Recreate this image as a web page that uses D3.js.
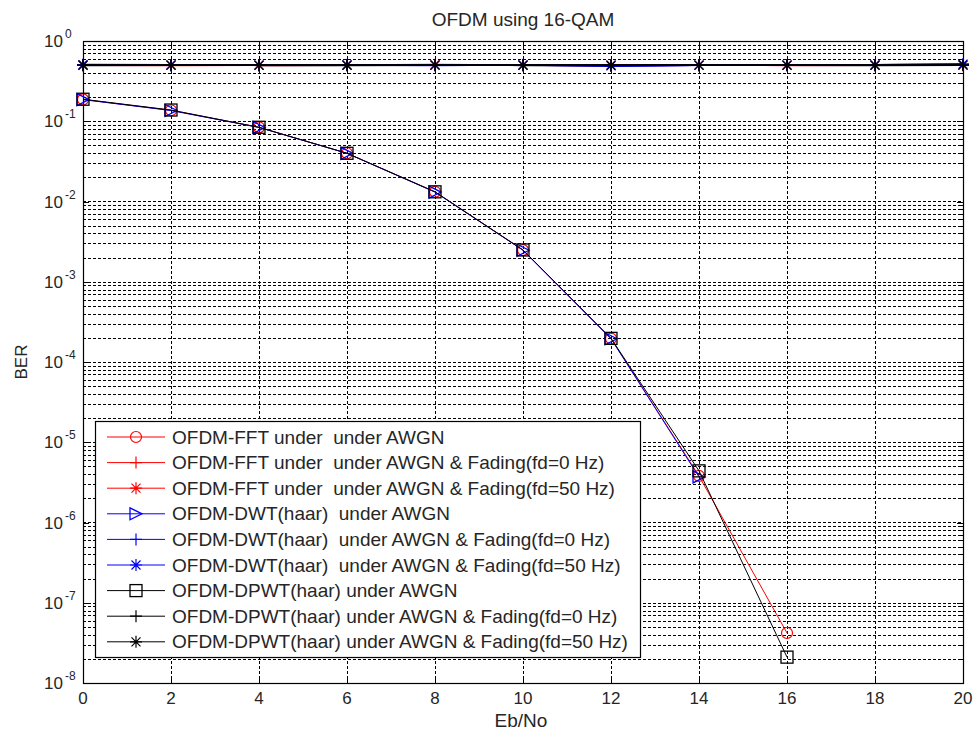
<!DOCTYPE html>
<html>
<head>
<meta charset="utf-8">
<script src="https://cdn.jsdelivr.net/npm/d3@7"></script>
<style>
  html, body { margin: 0; padding: 0; background: #fff; }
  svg { display: block; font-family: "Liberation Sans", Arial, sans-serif; }
  text { fill: #262626; }
</style>
</head>
<body>
<svg id="chart" width="979" height="733"></svg>
<script>
// Eb/No axis points (dB)
const ebno = [0, 2, 4, 6, 8, 10, 12, 14, 16, 18, 20];

// BER under AWGN (0 = no errors counted, not drawn on a log axis)
const fftAwgn  = [0.187, 0.137, 0.0840, 0.0399, 0.0132, 0.00248, 1.96e-4, 3.8e-6, 4.2e-8, 0, 0];
const dwtAwgn  = [0.186, 0.136, 0.0838, 0.0398, 0.0131, 0.00247, 1.95e-4, 3.7e-6, 0, 0, 0];
const dpwtAwgn = [0.188, 0.138, 0.0841, 0.0399, 0.0132, 0.00249, 1.97e-4, 4.4e-6, 2.1e-8, 0, 0];

// BER under AWGN & Rayleigh fading
const fftF0   = [0.500, 0.499, 0.500, 0.501, 0.503, 0.500, 0.499, 0.500, 0.500, 0.500, 0.501];
const fftF50  = [0.501, 0.500, 0.499, 0.500, 0.506, 0.500, 0.500, 0.501, 0.499, 0.500, 0.500];
const dwtF0   = [0.505, 0.503, 0.500, 0.505, 0.499, 0.504, 0.488, 0.500, 0.501, 0.504, 0.514];
const dwtF50  = [0.506, 0.502, 0.501, 0.504, 0.500, 0.505, 0.489, 0.501, 0.500, 0.503, 0.515];
const dpwtF0  = [0.500, 0.500, 0.499, 0.500, 0.500, 0.500, 0.499, 0.500, 0.500, 0.500, 0.500];
const dpwtF50 = [0.499, 0.500, 0.500, 0.499, 0.501, 0.499, 0.500, 0.500, 0.501, 0.499, 0.501];

const legendLabels = [
  "OFDM-FFT under  under AWGN",
  "OFDM-FFT under  under AWGN & Fading(fd=0 Hz)",
  "OFDM-FFT under  under AWGN & Fading(fd=50 Hz)",
  "OFDM-DWT(haar)  under AWGN",
  "OFDM-DWT(haar)  under AWGN & Fading(fd=0 Hz)",
  "OFDM-DWT(haar)  under AWGN & Fading(fd=50 Hz)",
  "OFDM-DPWT(haar) under AWGN",
  "OFDM-DPWT(haar) under AWGN & Fading(fd=0 Hz)",
  "OFDM-DPWT(haar) under AWGN & Fading(fd=50 Hz)"
];
const xTicks = [0, 2, 4, 6, 8, 10, 12, 14, 16, 18, 20];
const yDecades = [-8, -7, -6, -5, -4, -3, -2, -1, 0];

const RED = "#ff0000", BLUE = "#0000ff", BLACK = "#000000";
const series = [
  { values: fftAwgn,  color: RED,   marker: "circle" },
  { values: fftF0,    color: RED,   marker: "plus" },
  { values: fftF50,   color: RED,   marker: "star" },
  { values: dwtAwgn,  color: BLUE,  marker: "triangle" },
  { values: dwtF0,    color: BLUE,  marker: "plus" },
  { values: dwtF50,   color: BLUE,  marker: "star" },
  { values: dpwtAwgn, color: BLACK, marker: "square" },
  { values: dpwtF0,   color: BLACK, marker: "plus" },
  { values: dpwtF50,  color: BLACK, marker: "star" }
];

const svg = d3.select("#chart");
const L = 83, R = 963, T = 41, B = 683;
const x = d3.scaleLinear().domain([0, 20]).range([L, R]);
const y = d3.scaleLog().domain([1e-8, 1]).range([B, T]);

// Grid lines
const grid = svg.append("g").attr("stroke", "#000").attr("stroke-width", 1)
  .attr("stroke-dasharray", "3,2").attr("shape-rendering", "crispEdges");
const yGridVals = [];
yDecades.forEach(k => {
  if (k > -8 && k < 0) yGridVals.push(Math.pow(10, k));
  if (k < 0) for (let m = 2; m <= 9; m++) yGridVals.push(m * Math.pow(10, k));
});
grid.selectAll("line.gy").data(yGridVals).join("line")
  .attr("x1", L).attr("x2", R)
  .attr("y1", d => Math.round(y(d)) + 0.5).attr("y2", d => Math.round(y(d)) + 0.5);
grid.selectAll("line.gx").data(xTicks.slice(1, -1)).join("line")
  .attr("y1", T).attr("y2", B)
  .attr("x1", d => Math.round(x(d)) + 0.5).attr("x2", d => Math.round(x(d)) + 0.5);

// Axes box with inward ticks
const axes = svg.append("g");
const yMajor = yDecades.map(k => Math.pow(10, k));
const yMinor = yGridVals.filter(v => !yMajor.some(m => Math.abs(v / m - 1) < 1e-9));
axes.append("g").attr("transform", `translate(${L},0)`)
  .call(d3.axisLeft(y).tickValues(yMajor).tickSize(-6).tickFormat(""));
axes.append("g").attr("transform", `translate(${R},0)`)
  .call(d3.axisRight(y).tickValues(yMajor).tickSize(-6).tickFormat(""));
axes.append("g").attr("transform", `translate(${L},0)`)
  .call(d3.axisLeft(y).tickValues(yMinor).tickSize(-3).tickFormat(""));
axes.append("g").attr("transform", `translate(${R},0)`)
  .call(d3.axisRight(y).tickValues(yMinor).tickSize(-3).tickFormat(""));
axes.append("g").attr("transform", `translate(0,${B})`)
  .call(d3.axisBottom(x).tickValues(xTicks).tickSize(-6).tickFormat(""));
axes.append("g").attr("transform", `translate(0,${T})`)
  .call(d3.axisTop(x).tickValues(xTicks).tickSize(-6).tickFormat(""));
axes.selectAll(".domain").remove();
axes.selectAll("line").attr("stroke", "#000").attr("stroke-width", 1).attr("shape-rendering", "crispEdges");
svg.append("rect").attr("x", L + 0.5).attr("y", T + 0.5).attr("width", R - L).attr("height", B - T)
  .attr("fill", "none").attr("stroke", "#000").attr("stroke-width", 1.2);

// Tick labels
svg.append("g").selectAll("text").data(xTicks).join("text")
  .attr("x", d => x(d)).attr("y", 704).attr("text-anchor", "middle")
  .attr("font-size", 17).text(d => d);
const yl = svg.append("g").selectAll("text").data(yDecades).join("text")
  .attr("x", 63).attr("y", d => y(Math.pow(10, d)) + 6).attr("text-anchor", "end")
  .attr("font-size", 17);
yl.append("tspan").text("10");
yl.append("tspan").attr("x", 65).attr("dy", -9).attr("font-size", 12)
  .attr("text-anchor", "start").text(d => d);

// Titles
svg.append("text").attr("x", 523).attr("y", 26).attr("text-anchor", "middle")
  .attr("font-size", 19).text("OFDM using 16-QAM");
svg.append("text").attr("x", 521).attr("y", 727).attr("text-anchor", "middle")
  .attr("font-size", 19).text("Eb/No");
svg.append("text").attr("transform", "translate(27,362) rotate(-90)")
  .attr("text-anchor", "middle").attr("font-size", 17).text("BER");

// Marker drawing
function drawMarker(g, type, color) {
  const s = 6;
  if (type === "circle") {
    g.append("circle").attr("r", 5.5).attr("fill", "none").attr("stroke", color).attr("stroke-width", 1.2);
  } else if (type === "square") {
    g.append("rect").attr("x", -s).attr("y", -s).attr("width", 2 * s).attr("height", 2 * s)
      .attr("fill", "none").attr("stroke", color).attr("stroke-width", 1.3);
  } else if (type === "triangle") {
    g.append("path").attr("d", `M${-s},${-s}L${s},0L${-s},${s}Z`)
      .attr("fill", "none").attr("stroke", color).attr("stroke-width", 1.3);
  } else if (type === "plus") {
    g.append("path").attr("d", `M${-s},0H${s}M0,${-s}V${s}`).attr("stroke", color).attr("stroke-width", 1.2);
  } else if (type === "star") {
    const a = 4.5;
    g.append("path").attr("d", `M${-s},0H${s}M0,${-s}V${s}M${-a},${-a}L${a},${a}M${-a},${a}L${a},${-a}`)
      .attr("stroke", color).attr("stroke-width", 1.2);
  }
}

// Curves
const plot = svg.append("g");
const line = d3.line().x(d => x(d.x)).y(d => y(d.v));
series.forEach(s => {
  const pts = ebno.map((e, i) => ({ x: e, v: s.values[i] })).filter(p => p.v > 0);
  const thin = s.marker === "square" || s.marker === "circle" || s.marker === "triangle";
  const g = plot.append("g");
  g.append("path").datum(pts).attr("d", line).attr("fill", "none")
    .attr("stroke", s.color).attr("stroke-width", thin ? 1 : 1.8);
  pts.forEach(p => {
    const mg = g.append("g").attr("transform", `translate(${x(p.x)},${y(p.v)})`);
    drawMarker(mg, s.marker, s.color);
  });
});

// Legend
const lg = svg.append("g");
lg.append("rect").attr("x", 95.5).attr("y", 421.5).attr("width", 545).attr("height", 236)
  .attr("fill", "#fff").attr("stroke", "#000").attr("stroke-width", 1.2);
series.forEach((s, i) => {
  const yy = 437 + i * 25.6;
  lg.append("line").attr("x1", 107).attr("x2", 165).attr("y1", yy).attr("y2", yy)
    .attr("stroke", s.color).attr("stroke-width", 1);
  drawMarker(lg.append("g").attr("transform", `translate(136,${yy})`), s.marker, s.color);
  lg.append("text").attr("x", 172).attr("y", yy + 6.5).attr("font-size", 19)
    .style("white-space", "pre").attr("xml:space", "preserve").text(legendLabels[i]);
});
</script>
</body>
</html>
